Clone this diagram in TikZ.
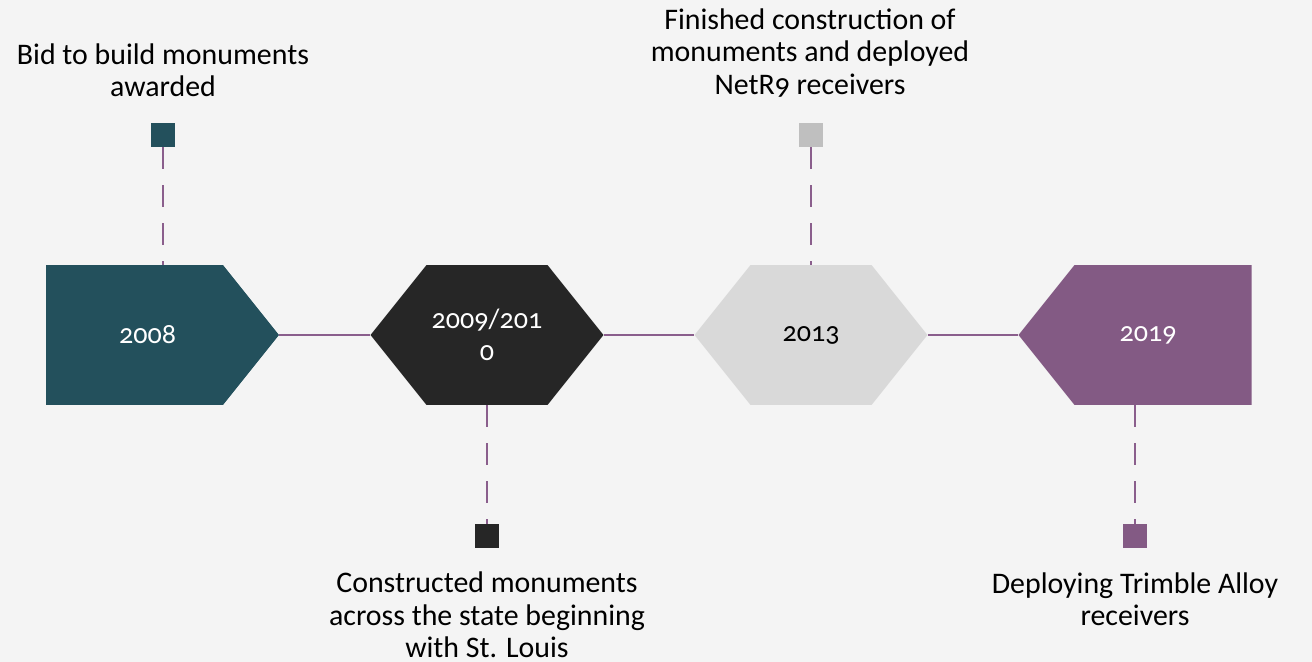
\documentclass[tikz,border=0pt]{standalone}
\usepackage{fontspec}
\setmainfont{Carlito}[Numbers=OldStyle]
\usepackage{tikz}
\usetikzlibrary{shapes.symbols,positioning}

\definecolor{bgcol}{HTML}{F4F4F4}
\definecolor{tealc}{HTML}{23505C}
\definecolor{darkc}{HTML}{262626}
\definecolor{lightc}{HTML}{D9D9D9}
\definecolor{greyc}{HTML}{BFBFBF}
\definecolor{plumc}{HTML}{835A84}
\definecolor{linec}{HTML}{8A5E8C}

\tikzset{
  yearbox/.style={signal, draw=none, minimum width=4.66cm, minimum height=2.8cm,
    inner sep=0pt, signal pointer angle=102.7, align=center,
    font=\fontsize{16}{18.5}\selectfont},
  marker/.style={rectangle, minimum size=0.48cm, inner sep=0pt},
  tick/.style={linec, line width=1.1pt, dash pattern=on 0.44cm off 0.32cm},
  link/.style={linec, line width=1.1pt},
  event/.style={align=center, font=\fontsize{17}{18.5}\selectfont}
}

\begin{document}
\begin{tikzpicture}[x=0.02cm, y=-0.02cm]
    \fill[bgcol] (0,0) rectangle (1312,662);
    \useasboundingbox (0,0) rectangle (1312,662);

    % year shapes along the timeline
    \node[yearbox, fill=tealc, text=white, signal to=east] (y2008) at (134.5,335) {\hspace{0.52cm}2008};
    \node[yearbox, fill=darkc, text=white, signal to=east and west] (y2009) at (487,335) {2009/201\\0};
    \node[yearbox, fill=lightc, text=black, signal to=east and west] (y2013) at (811,335) {2013};
    \node[yearbox, fill=plumc, text=white, signal to=west] (y2019) at (1163,335) {2019\hspace{0.6cm}};

    \draw[link] (y2008.east) -- (y2009.west);
    \draw[link] (y2009.east) -- (y2013.west);
    \draw[link] (y2013.east) -- (y2019.west);

    % markers
    \node[marker, fill=tealc] (m2008) at (163,135) {};
    \node[marker, fill=darkc] (m2009) at (487,536) {};
    \node[marker, fill=greyc] (m2013) at (811,135) {};
    \node[marker, fill=plumc] (m2019) at (1135,536) {};

    \draw[tick] (m2008.south) -- (m2008.south |- y2008.north);
    \draw[tick] (m2009.north |- y2009.south) -- (m2009.north);
    \draw[tick] (m2013.south) -- (m2013.south |- y2013.north);
    \draw[tick] (m2019.north |- y2019.south) -- (m2019.north);

    % event texts
    \node[event] (t2008) at (163,70) {Bid to build monuments\\awarded};
    \node[event] (t2013) at (810,53) {Finished construction of\\monuments and deployed\\NetR9 receivers};
    \node[event] (t2009) at (487,615) {Constructed monuments\\across the state beginning\\with St. Louis};
    \node[event] (t2019) at (1135,599) {Deploying Trimble Alloy\\receivers};
\end{tikzpicture}
\end{document}
